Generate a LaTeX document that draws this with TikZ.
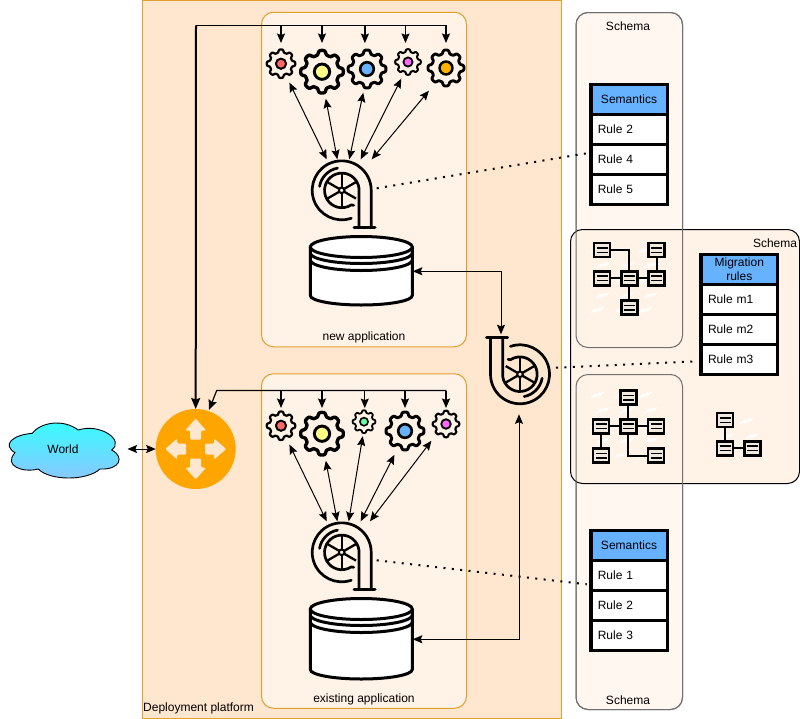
\documentclass[tikz,border=0pt]{standalone}
\usepackage{fontspec}
\setmainfont{Liberation Sans}
\usetikzlibrary{arrows.meta}
\definecolor{deploy}{HTML}{FFE6CF}
\definecolor{edgeor}{HTML}{E0A030}
\definecolor{appfill}{HTML}{FFF2E6}
\definecolor{schemalight}{HTML}{FFF7F0}
\definecolor{schemaedge}{HTML}{707070}
\definecolor{hdrblue}{HTML}{66B2FF}
\definecolor{routeror}{HTML}{FFA500}
\definecolor{gred}{HTML}{FF6666}
\definecolor{gyellow}{HTML}{FFFF88}
\definecolor{gblue}{HTML}{66B2FF}
\definecolor{gmag}{HTML}{FF66FF}
\definecolor{gorange}{HTML}{FFB300}
\definecolor{ggreen}{HTML}{66FFA0}
\definecolor{boxfill}{HTML}{F2E9DF}
\tikzset{
  every node/.style={font=\fontsize{12}{14}\selectfont},
  panel/.style={draw=edgeor,fill=appfill,line width=1pt,rounded corners=12pt},
  anchorbox/.style={inner sep=0pt,outer sep=0pt},
  both/.style={{Stealth[length=9.5pt,width=8pt,inset=1.5pt]}-{Stealth[length=9.5pt,width=8pt,inset=1.5pt]},line width=1pt},
  busline/.style={line width=1.2pt},
  busarr/.style={-{Stealth[length=9.5pt,width=8pt,inset=1.5pt]},line width=1.2pt},
  dotline/.style={line width=2pt,dash pattern=on 2pt off 6.4pt},
  hdrcell/.style={draw=black,fill=hdrblue,line width=3.5pt,minimum width=76.5pt,minimum height=30pt,inner sep=0pt,outer sep=0pt,align=center},
  rulecell/.style={draw=black,fill=white,line width=3.5pt,minimum height=30pt,inner ysep=0pt,inner xsep=7pt,outer sep=0pt,text width=62.5pt,align=left},
  iconbox/.style={draw=black,fill=boxfill,line width=2.6pt,minimum width=16pt,minimum height=14pt,inner sep=0pt,outer sep=0pt},
  iconline/.style={line width=2.2pt},
  iconbar/.style={line width=1.6pt},
  turbline/.style={line width=2.7pt,line cap=round},
  zigline/.style={white,line width=1.2pt,line join=round},
}
\newcommand{\gearat}[6]{% name,x,y,R,nodeR,colour
  \node[circle,anchorbox,minimum size=#5*2pt] (#1) at (#2,#3) {};
  \draw[line width=#4*0.15pt,fill=appfill,line join=round,domain=0:360,samples=193,variable=\x]
    plot ({#2+#4*(0.85+0.10*tanh(2*cos(8*\x)))*cos(\x)},{#3+#4*(0.85+0.10*tanh(2*cos(8*\x)))*sin(\x)}) -- cycle;
  \draw[line width=#4*0.13pt,fill=#6] (#2,#3) circle[radius=#4*0.34pt];
}
\newcommand{\turb}[5]{% name,x,y,rotation,node size
  \node[anchorbox,minimum width=#5*1pt,minimum height=62pt] (#1) at (#2,#3) {};
  \begin{scope}[shift={(#2,#3)},rotate=#4,turbline]
    \draw (9.6,27.9) arc[start angle=-71,end angle=-360,radius=29.5pt] -- (29.5,36.5);
    \draw (17.3,36.5) -- (17.3,-2) arc[start angle=7,end angle=303,radius=17.3pt] -- (12,15);
    \draw (-4.2,-22.2) arc[start angle=101,end angle=170,radius=22.6pt];
    \draw[line width=3pt] (12.3,37) -- (33.3,37);
    \foreach \a in {30,90,150,210,270,330}
      \draw[line width=2.3pt,line cap=butt] ({3.2*cos(\a)},{3.2*sin(\a)}) -- ({16.5*cos(\a)},{16.5*sin(\a)});
    \draw[line width=2pt] (0,0) circle[radius=2.8pt];
  \end{scope}
}
\newcommand{\dbat}[4]{% name,x,ytop,ybottom
  \draw[line width=3pt,fill=white] (#2-51,#3) -- (#2-51,#4) arc[start angle=180,end angle=360,x radius=51pt,y radius=9.5pt] -- (#2+51,#3);
  \draw[line width=3pt,fill=white] (#2,#3) circle[x radius=51pt,y radius=10.5pt];
  \draw[line width=3pt] (#2-51,#3+6) arc[start angle=180,end angle=360,x radius=51pt,y radius=10.5pt];
  \draw[line width=3pt] (#2-51,#3+13) arc[start angle=180,end angle=360,x radius=51pt,y radius=10.5pt];
  \node[anchorbox,minimum width=103pt,minimum height=#4*1pt-#3*1pt+20pt] (#1) at (#2,{(#3+#4)/2}) {};
}
\newcommand{\ruletable}[7]{% prefix,x,yhdr,header,r1,r2,r3
  \node[hdrcell] (#1h) at (#2,#3) {#4};
  \node[rulecell] (#1a) at (#2,#3+30) {#5};
  \node[rulecell] (#1b) at (#2,#3+60) {#6};
  \node[rulecell] (#1c) at (#2,#3+90) {#7};
}
\newcommand{\ibox}[3]{%
  \node[iconbox] (#1) at (#2,#3) {};
  \draw[iconbar] ([xshift=-5.5pt,yshift=2.3pt]#1.center) -- ([xshift=5.5pt,yshift=2.3pt]#1.center);
  \draw[iconbar] ([xshift=-5.5pt,yshift=-2.3pt]#1.center) -- ([xshift=5.5pt,yshift=-2.3pt]#1.center);
}
\newcommand{\zig}[2]{%
  \draw[zigline] (#1,#2) -- ++(4.5,-4) -- ++(-0.5,3) -- ++(4.5,-4) -- ++(-0.5,3) -- ++(4.5,-4);
}
\newcommand{\zigs}[2]{% x0,y0
  \zig{#1}{#2}\zig{#1+24}{#2}\zig{#1+48}{#2}
  \zig{#1+6}{#2+15}\zig{#1+30}{#2+15}\zig{#1+54}{#2+15}
  \zig{#1}{#2+30}\zig{#1+24}{#2+30}\zig{#1+48}{#2+30}
  \zig{#1+6}{#2+45}\zig{#1+30}{#2+45}\zig{#1+54}{#2+45}
  \zig{#1}{#2+60}\zig{#1+24}{#2+60}\zig{#1+48}{#2+60}
}
\begin{document}
\begin{tikzpicture}[x=1pt,y=-1pt]
\useasboundingbox (0,0) rectangle (800,718);
% deployment platform
\node[draw=edgeor,fill=deploy,line width=1pt,anchorbox,minimum width=419pt,minimum height=718pt] (deployment) at (351.5,359) {};
\node[anchor=west,inner sep=0pt] (deploylabel) at (143,708) {Deployment platform};
% applications
\node[panel,anchorbox,minimum width=205pt,minimum height=334.5pt] (newapp) at (364,179.5) {};
\node[panel,anchorbox,minimum width=205pt,minimum height=334.5pt] (existapp) at (364,541) {};
\node[inner sep=0pt] (newlabel) at (364,337) {new application};
\node[inner sep=0pt] (existlabel) at (364,699) {existing application};
% schema panels
\draw[draw=schemaedge,fill=schemalight,line width=1pt,rounded corners=12pt] (576,12.5) rectangle (682.5,347.5);
\draw[draw=schemaedge,fill=schemalight,line width=1pt,rounded corners=12pt] (576,374.5) rectangle (682.5,709.5);
\draw[draw=black,fill=appfill,line width=1pt,rounded corners=12pt] (570.5,229.5) rectangle (799.5,483.5);
\draw[draw=schemaedge,line width=1pt,rounded corners=12pt] (576,12.5) rectangle (682.5,347.5);
\draw[draw=schemaedge,line width=1pt,rounded corners=12pt] (576,374.5) rectangle (682.5,709.5);
\node[inner sep=0pt] (schemaA) at (628,26) {Schema};
\node[inner sep=0pt] (schemaB) at (628,700) {Schema};
\node[inner sep=0pt] (schemaC) at (775,243) {Schema};
% rule tables
\ruletable{sa}{629}{99.3}{Semantics}{Rule 2}{Rule 4}{Rule 5}
\ruletable{sb}{629}{545.3}{Semantics}{Rule 1}{Rule 2}{Rule 3}
\ruletable{sc}{739.3}{269.3}{\fontsize{12}{15}\selectfont Migration\\rules}{Rule m1}{Rule m2}{Rule m3}
% network icons
\zigs{591}{253}
\zigs{591}{398}
\zig{716}{424}\zig{740}{424}\zig{722}{439}\zig{746}{439}\zig{716}{454}\zig{740}{454}
\ibox{na}{602}{250}\ibox{nb}{656.7}{250}\ibox{nc}{602}{278.3}\ibox{nd}{629.3}{278.3}\ibox{ne}{656.7}{278.3}\ibox{nf}{629.3}{307.7}
\draw[iconline] (na) -| (nd);
\draw[iconline] (nb) -- (ne);
\draw[iconline] (nc) -- (nd);
\draw[iconline] (nd) -- (ne);
\draw[iconline] (nd) -- (nf);
\ibox{ma}{628.3}{397.7}\ibox{mb}{601}{426.3}\ibox{mc}{628.3}{426.3}\ibox{md}{656}{426.3}\ibox{me}{601}{455.7}\ibox{mf}{656}{455.7}
\draw[iconline] (ma) -- (mc);
\draw[iconline] (mb) -- (mc);
\draw[iconline] (mc) -- (md);
\draw[iconline] (mb) -- (me);
\draw[iconline] (mc) |- (mf);
\ibox{pa}{725}{420}\ibox{pb}{725}{448.3}\ibox{pc}{752.3}{448.3}
\draw[iconline] (pa) -- (pb);
\draw[iconline] (pb) -- (pc);
% world
\shade[top color=cyan!80!white,bottom color=hdrblue!75!white,draw=black,line width=0.9pt]
  (15,452.7) .. controls (2,445) and (12,435) .. (32.3,433.3)
  .. controls (40,423) and (62,418) .. (78.3,430)
  .. controls (100,423) and (125,440) .. (111.7,450)
  .. controls (125,457) and (120,470) .. (100,469)
  .. controls (87,481) and (50,481) .. (38.3,469)
  .. controls (23,473) and (3,466) .. (15,452.7) -- cycle;
\node[anchorbox,minimum width=129pt,minimum height=40pt] (world) at (63,449) {World};
% router
\node[circle,fill=routeror,anchorbox,minimum size=80pt] (router) at (195.7,449) {};
\foreach \r in {0,90,180,270}
  \fill[deploy,rounded corners=1.2pt,shift={(195.7,449)},rotate=\r]
    (0,-30.5) -- (10.5,-18.5) -- (5.5,-18.5) -- (5.5,-9.5) -- (-5.5,-9.5) -- (-5.5,-18.5) -- (-10.5,-18.5) -- cycle;
\draw[both] (world.east) -- (router.west);
% gears top
\gearat{ga}{281}{63.7}{15}{20.7}{gred}
\gearat{gb}{322}{71.7}{22.5}{27.3}{gyellow}
\gearat{gc}{367}{69}{20}{24}{gblue}
\gearat{gd}{408}{62}{13.5}{18}{gmag}
\gearat{ge}{446}{68}{19}{28.4}{gorange}
% gears bottom
\gearat{ha}{281}{425.7}{15}{20.7}{gred}
\gearat{hb}{322}{433.7}{22.5}{27.3}{gyellow}
\gearat{hc}{364}{421.7}{12}{14.6}{ggreen}
\gearat{hd}{405}{431}{20}{26}{gblue}
\gearat{he}{446}{424}{14}{22.2}{gmag}
% turbines, stores
\turb{ta}{341.7}{190.3}{0}{70}
\turb{tb}{341.7}{552.3}{0}{70}
\turb{tc}{520}{374.3}{180}{72}
\dbat{da}{361.3}{247}{295.5}
\dbat{db}{361.3}{609}{669.5}
% buses
\coordinate (bustop) at (196,25.3);
\coordinate (busend) at (446.3,25.3);
\coordinate (lowstart) at (216.7,390.5);
\coordinate (lowend) at (446.3,390.5);
\draw[-{Stealth[length=11pt,width=9pt,inset=1.5pt]},line width=2pt] (bustop) -- (router.north);
\draw[busline] (bustop) -- (busend);
\draw[busline,-{Stealth[length=10pt,width=8.5pt,inset=1.5pt]}] (lowend) -- (lowstart) -- ([xshift=13.3pt,yshift=-1pt]router.north);
\draw[busarr] (ga.90 |- bustop) -- (ga.90);
\draw[busarr,shorten >=1.4pt] (gb.90 |- bustop) -- (gb.90);
\draw[busarr,shorten >=2pt] (gc.95 |- bustop) -- (gc.95);
\draw[busarr,shorten >=1.2pt] (gd.98 |- bustop) -- (gd.98);
\draw[busarr,shorten >=-3.4pt] (ge.90 |- bustop) -- (ge.90);
\draw[busarr,shorten >=-3pt] (ha.90 |- lowstart) -- (ha.90);
\draw[busarr,shorten >=-1.6pt] (hb.90 |- lowstart) -- (hb.90);
\draw[busarr,shorten >=-1pt] (hc.87 |- lowstart) -- (hc.87);
\draw[busarr,shorten >=-3pt] (hd.90 |- lowstart) -- (hd.90);
\draw[busarr,shorten >=-6.2pt] (he.90 |- lowstart) -- (he.90);
% gear to turbine
\draw[both] (ga.-66) -- ([xshift=-15pt]ta.north);
\draw[both] (gb.-82) -- ([xshift=-4.4pt]ta.north);
\draw[both] (gc.-99) -- ([xshift=7.6pt]ta.north);
\draw[both] (gd.-112) -- ([xshift=19pt]ta.north);
\draw[both] (ge.-127) -- ([xshift=30pt]ta.north);
\draw[both] (ha.-66) -- ([xshift=-15pt]tb.north);
\draw[both] (hb.-82) -- ([xshift=-4.4pt]tb.north);
\draw[both] (hc.-95) -- ([xshift=7pt]tb.north);
\draw[both] (hd.-114) -- ([xshift=19pt]tb.north);
\draw[both] (he.-131) -- ([xshift=28.3pt]tb.north);
% migration turbine connections
\draw[both] (da.east) -| ([xshift=-19pt,yshift=9pt]tc.north);
\draw[both] (db.east) -| ([xshift=-1pt,yshift=-9pt]tc.south);
% dotted links
\draw[dotline] ([yshift=2pt]ta.east) -- ([xshift=-4pt,yshift=6pt]sab.west);
\draw[dotline] ([yshift=-8pt]tb.east) -- ([xshift=-4pt,yshift=-9pt]sba.west);
\draw[dotline] ([yshift=6.6pt]tc.east) -- ([xshift=-4pt,yshift=-2pt]scc.west);
\end{tikzpicture}
\end{document}
